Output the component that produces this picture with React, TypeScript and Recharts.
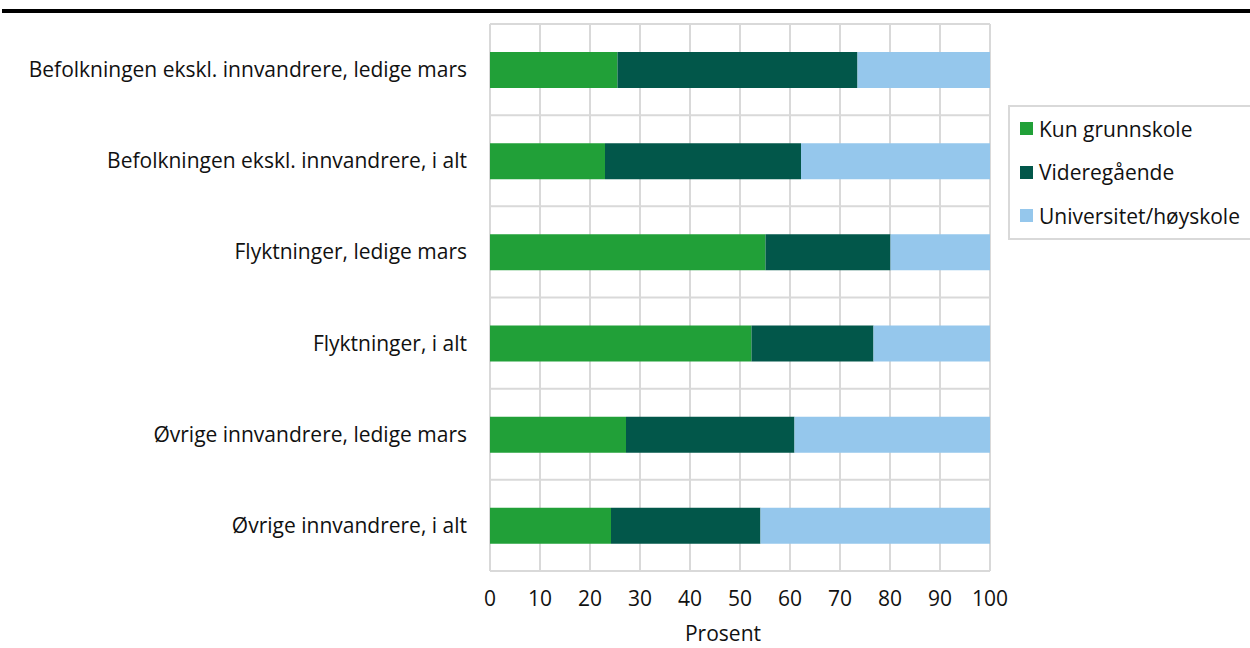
import React from "react";
import {
  BarChart,
  Bar,
  XAxis,
  YAxis,
  CartesianGrid,
  Legend,
} from "recharts";

const categories = [
  "Befolkningen ekskl. innvandrere, ledige mars",
  "Befolkningen ekskl. innvandrere, i alt",
  "Flyktninger, ledige mars",
  "Flyktninger, i alt",
  "Øvrige innvandrere, ledige mars",
  "Øvrige innvandrere, i alt",
];
const grunnskole = [25.5, 23.0, 55.1, 52.3, 27.2, 24.2];
const videregaende = [48.0, 39.2, 25.0, 24.4, 33.7, 29.9];
const universitet = [26.5, 37.8, 19.9, 23.3, 39.1, 45.9];
const xTicks = [0, 10, 20, 30, 40, 50, 60, 70, 80, 90, 100];

const series = [
  { key: "grunnskole", name: "Kun grunnskole", color: "#21a038" },
  { key: "videregaende", name: "Videregående", color: "#02574a" },
  { key: "universitet", name: "Universitet/høyskole", color: "#95c7ec" },
];

const data = categories.map((c, i) => ({
  name: c,
  grunnskole: grunnskole[i],
  videregaende: videregaende[i],
  universitet: universitet[i],
}));

const font = "'Open Sans', 'Noto Sans', sans-serif";
const textStyle = { fontSize: 21, fill: "#111", fontFamily: font };

function LegendBox() {
  return (
    <div
      style={{
        border: "2px solid #d9d9d9",
        background: "#fff",
        padding: "0 0 0 10px",
        width: 260,
        boxSizing: "border-box",
      }}
    >
      {series.map((s) => (
        <div
          key={s.key}
          style={{
            display: "flex",
            alignItems: "center",
            height: 43.5,
            fontFamily: font,
            fontSize: 21,
            color: "#111",
            whiteSpace: "nowrap",
          }}
        >
          <span
            style={{
              width: 13,
              height: 13,
              background: s.color,
              marginRight: 6,
              display: "inline-block",
              flexShrink: 0,
            }}
          />
          {s.name}
        </div>
      ))}
    </div>
  );
}

export default function App() {
  return (
    <div
      style={{
        position: "fixed",
        left: 0,
        top: 0,
        width: 1250,
        height: 648,
        background: "#fff",
        overflow: "hidden",
      }}
    >
      <div
        style={{
          position: "absolute",
          left: 2,
          top: 9,
          width: 1248,
          height: 3.5,
          background: "#000",
        }}
      />
      <BarChart
        width={1250}
        height={648}
        data={data}
        layout="vertical"
        margin={{ top: 24, right: 0, bottom: 0, left: 0 }}
        barSize={36}
      >
        <CartesianGrid
          stroke="#d9d9d9"
          strokeWidth={2}
          horizontalCoordinatesGenerator={({ offset }: any) =>
            categories
              .map((_, i) => offset.top + (i * offset.height) / categories.length)
              .concat(offset.top + offset.height)
          }
        />
        <XAxis
          type="number"
          domain={[0, 100]}
          ticks={xTicks}
          axisLine={false}
          tickLine={false}
          tickSize={0}
          tickMargin={20}
          height={77}
          interval={0}
          tick={textStyle}
          label={{
            value: "Prosent",
            position: "insideBottom",
            offset: 7,
            dx: -17,
            style: textStyle,
          }}
        />
        <YAxis
          type="category"
          dataKey="name"
          width={490}
          axisLine={false}
          tickLine={false}
          tickSize={0}
          tickMargin={23}
          interval={0}
          tick={textStyle}
        />
        <Legend
          layout="vertical"
          verticalAlign="top"
          align="right"
          wrapperStyle={{ top: 105, left: 1008, width: 260 }}
          content={() => <LegendBox />}
        />
        {series.map((s) => (
          <Bar
            key={s.key}
            dataKey={s.key}
            name={s.name}
            stackId="a"
            fill={s.color}
            isAnimationActive={false}
          />
        ))}
      </BarChart>
    </div>
  );
}
